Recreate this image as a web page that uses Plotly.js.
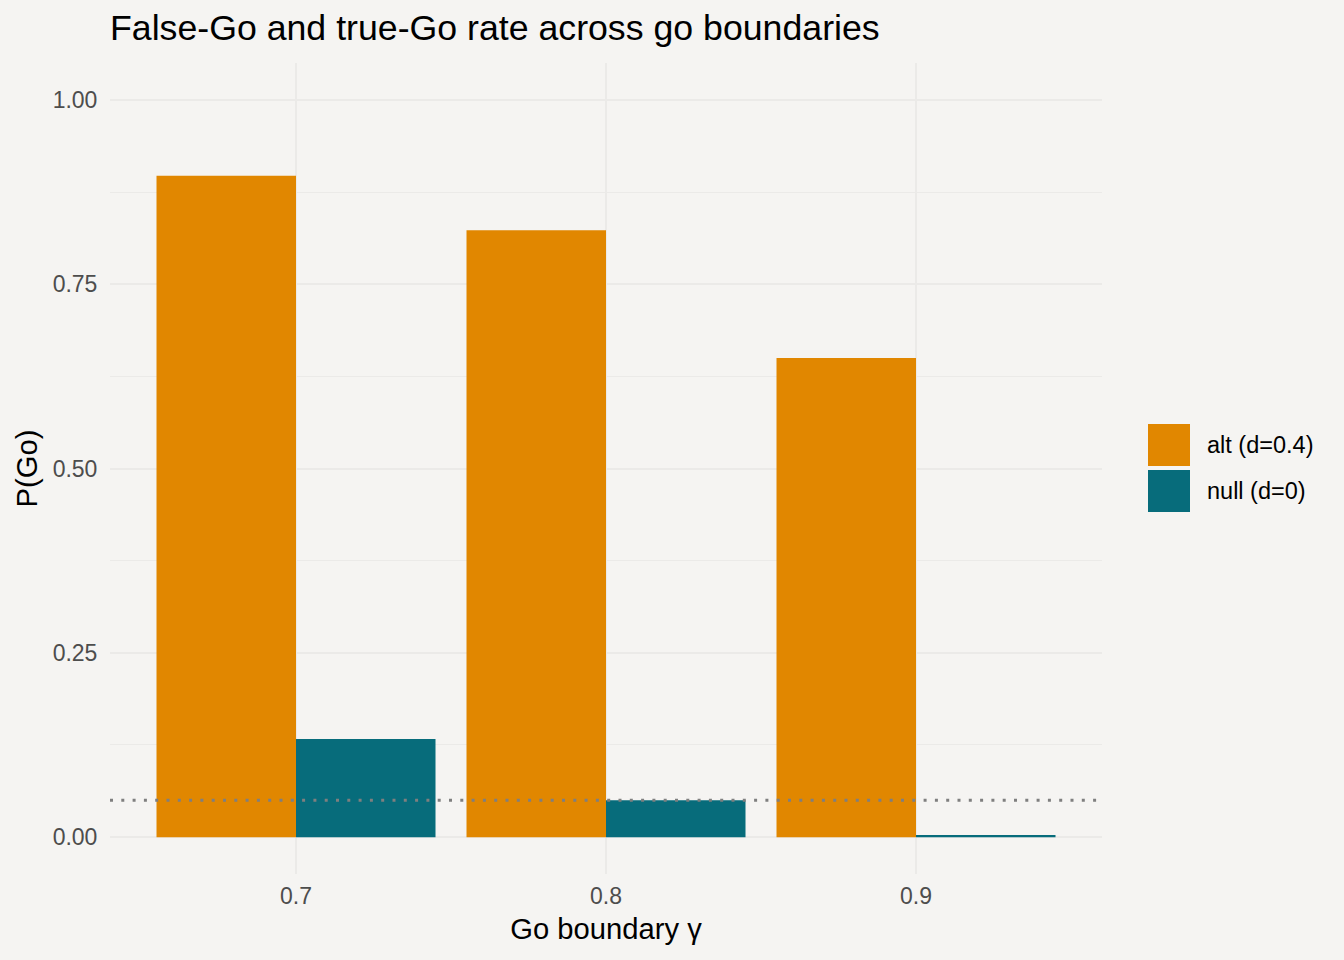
<!DOCTYPE html>
<html>
<head>
<meta charset="utf-8">
<script src="https://cdn.plot.ly/plotly-3.0.1.min.js"></script>
<style>
  html, body { margin: 0; padding: 0; background: #F5F4F2; }
  #plot-area { width: 1344px; height: 960px; }
</style>
</head>
<body>
<div id="plot-area"></div>
<script>
const gammaLevels = ['0.7', '0.8', '0.9']
const altGo = [0.897, 0.823, 0.650]
const nullGo = [0.133, 0.050, 0.003]
const seriesNames = ['alt (d=0.4)', 'null (d=0)']
const alphaLevel = 0.05

const colors = ['#E18700', '#076C7B']
const bg = '#F5F4F2'
const grid = '#EBEAE8'
const font = 'Liberation Sans, Arial, sans-serif'

// plot box in pixels, used for the hand-drawn legend
const W = 1344, H = 960
const margin = {l: 110, r: 242, t: 63, b: 86}
const plotW = W - margin.l - margin.r
const plotH = H - margin.t - margin.b
const px2x = (px) => (px - margin.l) / plotW
const px2y = (py) => (H - margin.b - py) / plotH

const alt = {
  name: seriesNames[0],
  x: gammaLevels,
  y: altGo,
  type: 'bar',
  marker: {color: colors[0], line: {width: 0}},
  hoverinfo: 'x+y+name'
}

const nul = {
  name: seriesNames[1],
  x: gammaLevels,
  y: nullGo,
  type: 'bar',
  marker: {color: colors[1], line: {width: 0}},
  hoverinfo: 'x+y+name'
}

// legend keys drawn as shapes, labels as annotations
let shapes = [{
  type: 'line', xref: 'paper', x0: 0, x1: 1,
  yref: 'y', y0: alphaLevel, y1: alphaLevel,
  line: {color: '#7F7F7F', width: 3, dash: '3px,8.3px'},
  layer: 'above'
}]
let annotations = []
const keyTop = [424, 470]
for (let i = 0; i < seriesNames.length; i++) {
  shapes.push({
    type: 'rect', xref: 'paper', yref: 'paper',
    x0: px2x(1148), x1: px2x(1190),
    y0: px2y(keyTop[i] + 42), y1: px2y(keyTop[i]),
    fillcolor: colors[i], line: {width: 0}
  })
  annotations.push({
    xref: 'paper', yref: 'paper',
    x: px2x(1205), y: px2y(keyTop[i] + 21),
    xanchor: 'left', yanchor: 'middle',
    text: seriesNames[i], showarrow: false,
    font: {family: font, size: 23.5, color: '#000000'}
  })
}

const layout = {
  width: W,
  height: H,
  margin: margin,
  paper_bgcolor: bg,
  plot_bgcolor: bg,
  showlegend: false,
  barmode: 'group',
  bargap: 0.1,
  bargroupgap: 0,
  font: {family: font, color: '#000000'},
  title: {
    text: 'False-Go and true-Go rate across go boundaries',
    font: {family: font, size: 35.7, color: '#000000'},
    x: 0, xref: 'paper', xanchor: 'left',
    y: 1 - 28 / H, yref: 'container', yanchor: 'middle'
  },
  xaxis: {
    type: 'category',
    range: [-0.6, 2.6],
    showgrid: true,
    gridcolor: grid,
    gridwidth: 2,
    zeroline: false,
    showline: false,
    ticks: 'outside',
    ticklen: 1,
    tickcolor: 'rgba(0,0,0,0)',
    tickfont: {family: font, size: 23, color: '#4D4D4D'},
    title: {text: 'Go boundary γ', font: {family: font, size: 29.2, color: '#000000'}, standoff: 10}
  },
  yaxis: {
    range: [-0.05, 1.05],
    tick0: 0,
    dtick: 0.25,
    tickformat: '.2f',
    showgrid: true,
    gridcolor: grid,
    gridwidth: 2,
    minor: {dtick: 0.125, tick0: 0, showgrid: true, gridcolor: grid, gridwidth: 1},
    zeroline: false,
    showline: false,
    ticks: 'outside',
    ticklen: 7,
    tickcolor: 'rgba(0,0,0,0)',
    tickfont: {family: font, size: 23, color: '#4D4D4D'},
    title: {text: 'P(Go)', font: {family: font, size: 29.2, color: '#000000'}, standoff: 6}
  },
  shapes: shapes,
  annotations: annotations
}

Plotly.newPlot('plot-area', [alt, nul], layout, {displayModeBar: false, staticPlot: true})
</script>
</body>
</html>
